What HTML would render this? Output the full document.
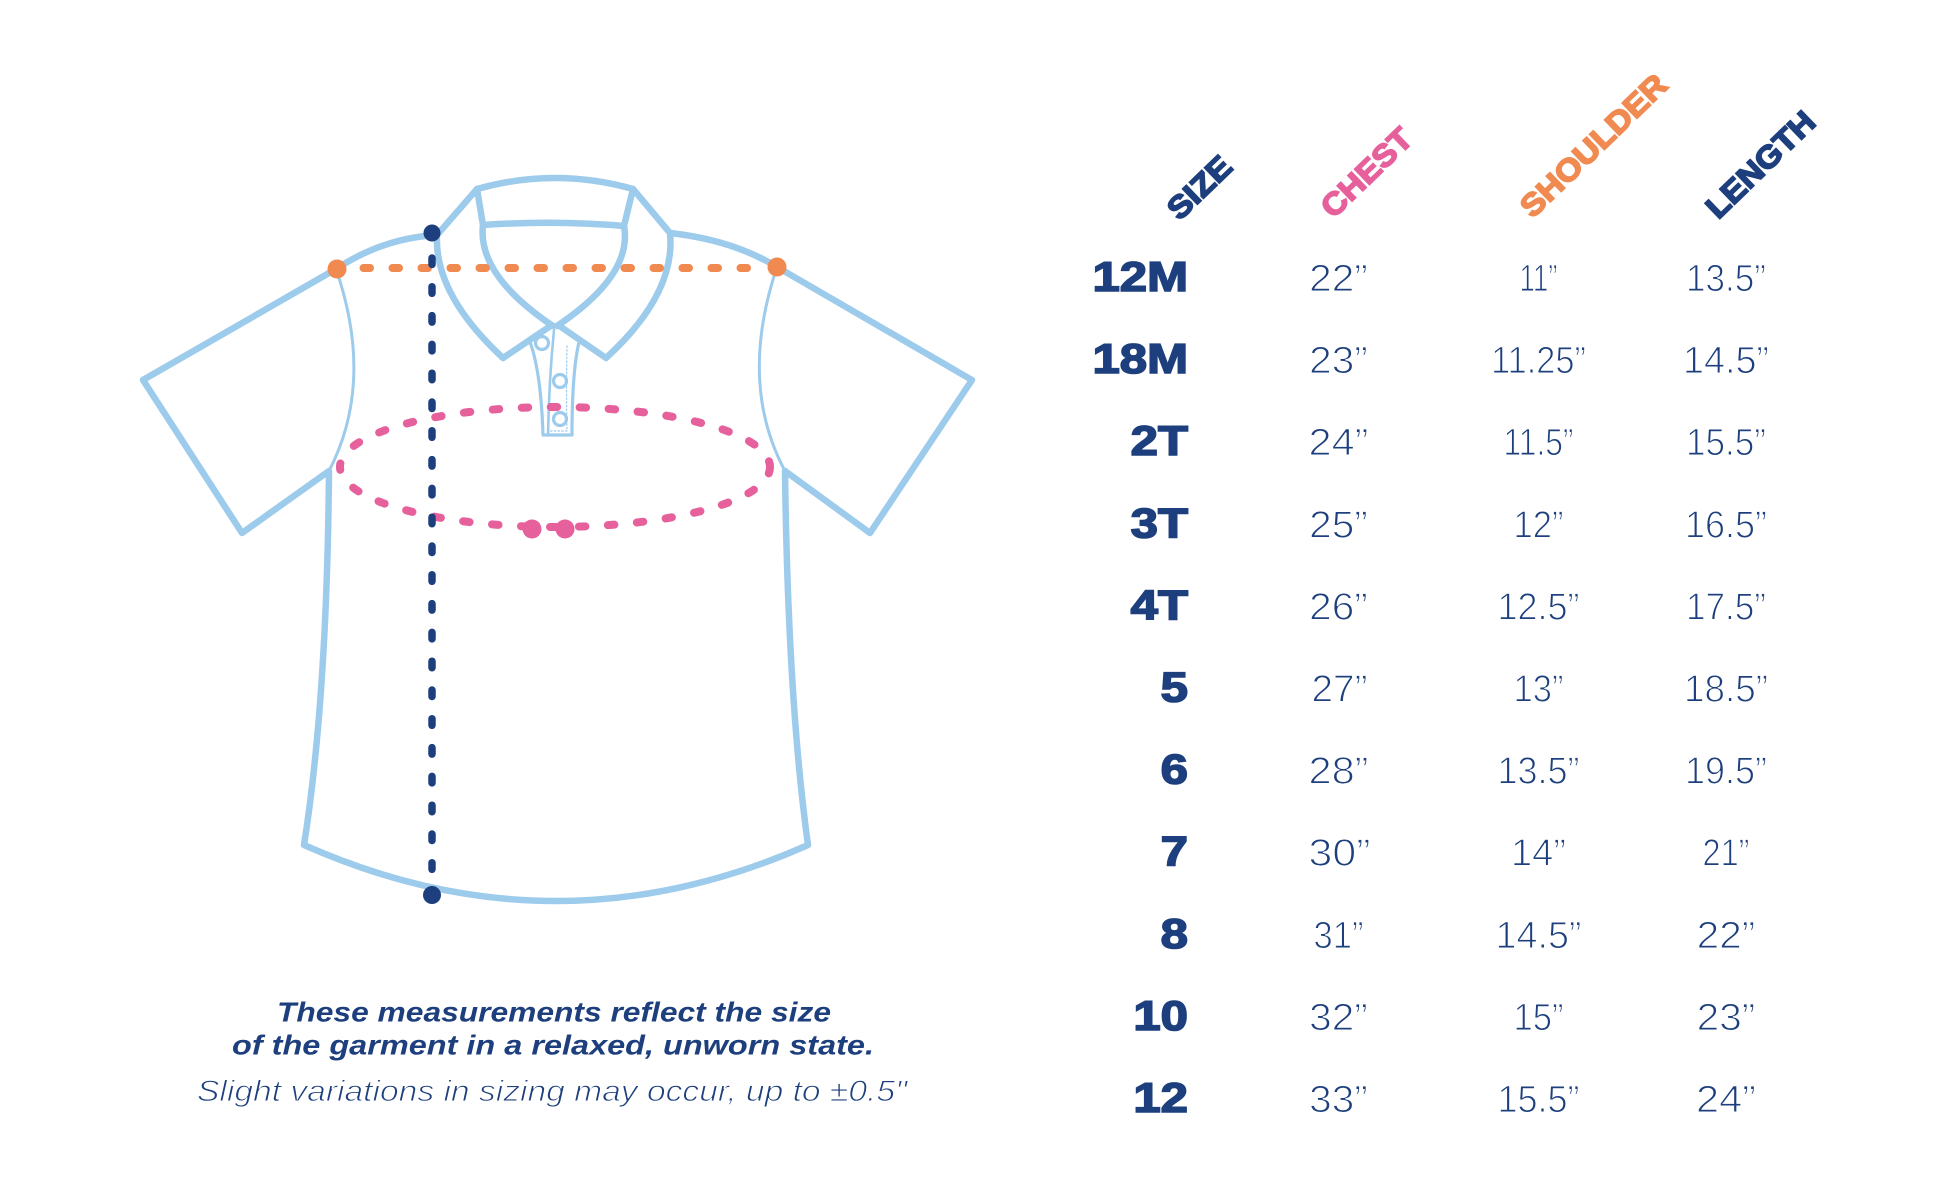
<!DOCTYPE html>
<html>
<head>
<meta charset="utf-8">
<style>
  html,body{margin:0;padding:0;background:#ffffff;}
  body{width:1946px;height:1194px;overflow:hidden;}
  svg{display:block;}
  .lbl{font-family:"Liberation Sans",sans-serif;font-weight:bold;font-size:42px;fill:#1d3f7d;stroke:#1d3f7d;stroke-width:1.6px;}
  .val{font-family:"Liberation Sans",sans-serif;font-weight:normal;font-size:38px;fill:#1d3f7d;stroke:#ffffff;stroke-width:1.1px;}
  .hdr{font-family:"Liberation Sans",sans-serif;font-weight:bold;font-size:31px;stroke-width:1.7px;}
</style>
</head>
<body>
<svg width="1946" height="1194" viewBox="0 0 1946 1194" xmlns="http://www.w3.org/2000/svg">
  <rect x="0" y="0" width="1946" height="1194" fill="#ffffff"/>

  <!-- ===== SHIRT ===== -->
  <g fill="none" stroke="#9dcbec" stroke-linejoin="round" stroke-linecap="round">
    <path stroke-width="6.5" d="M 437 235 Q 383 238 336 269 L 143 380 L 242 533 L 329 471 Q 327 700 304 845 Q 556 957 808 845 Q 788 700 785 471 L 870 533 L 972 380 L 777 267 Q 733 240 670 233"/>
    <path stroke-width="6.5" d="M 477 189 Q 555 167 633 189"/>
    <path stroke-width="6.5" d="M 483 225 Q 555 220 624 226"/>
    <path stroke-width="6.5" d="M 477 189 L 437 235 Q 434 294 503 358 L 549 327"/>
    <path stroke-width="6.5" d="M 477 189 L 483 225 Q 477 275 553 326"/>
    <path stroke-width="6.5" d="M 633 189 L 670 233 Q 676 294 606 358 L 561 327"/>
    <path stroke-width="6.5" d="M 633 189 L 624 226 Q 633 275 557 326"/>
    <path stroke-width="3" d="M 336 269 Q 375 382 329 471"/>
    <path stroke-width="3" d="M 777 267 Q 738 383 785 471"/>
    <path stroke-width="3.2" d="M 530 342 Q 541 372 543 435 L 572 435 Q 572 372 579 342"/>
    <path stroke-width="2.6" d="M 554 330 Q 549 380 548 435"/>
    <path stroke-width="1.2" stroke-dasharray="1.5 2.2" d="M 567 346 Q 566 390 567 431 L 549 431"/>
    <circle cx="542" cy="343" r="6.5" stroke-width="3.2" fill="#ffffff"/>
    <circle cx="560" cy="381" r="6.5" stroke-width="3.2" fill="#ffffff"/>
    <circle cx="560" cy="419" r="6.5" stroke-width="3.2" fill="#ffffff"/>
  </g>

  <!-- pink chest ellipse -->
  <ellipse cx="555" cy="467" rx="215" ry="60" fill="none" stroke="#e6609c" stroke-width="8" stroke-linecap="round" stroke-dasharray="6.5 22.5"/>
  <circle cx="532" cy="529" r="9.5" fill="#e6609c"/>
  <circle cx="565" cy="529" r="9.5" fill="#e6609c"/>

  <!-- orange shoulder line -->
  <path d="M 363.5 268 H 765" fill="none" stroke="#f18a51" stroke-width="8" stroke-linecap="round" stroke-dasharray="6.5 22.5"/>
  <circle cx="337" cy="269" r="9.5" fill="#f18a51"/>
  <circle cx="777" cy="267" r="9.5" fill="#f18a51"/>

  <!-- navy length line -->
  <path d="M 432 258 V 880" fill="none" stroke="#1d3f7d" stroke-width="7.5" stroke-linecap="round" stroke-dasharray="6.5 22.3"/>
  <circle cx="432" cy="233" r="8.5" fill="#1d3f7d"/>
  <circle cx="432" cy="895" r="9" fill="#1d3f7d"/>

  <!-- ===== NOTE TEXT ===== -->
  <text x="554" y="1021.5" text-anchor="middle" textLength="554" lengthAdjust="spacingAndGlyphs"
        font-family="Liberation Sans, sans-serif" font-weight="bold" font-style="italic" font-size="28" fill="#1d3f7d">These measurements reflect the size</text>
  <text x="553" y="1054.5" text-anchor="middle" textLength="642" lengthAdjust="spacingAndGlyphs"
        font-family="Liberation Sans, sans-serif" font-weight="bold" font-style="italic" font-size="28" fill="#1d3f7d">of the garment in a relaxed, unworn state.</text>
  <text x="552" y="1101" text-anchor="middle" textLength="710" lengthAdjust="spacingAndGlyphs"
        font-family="Liberation Sans, sans-serif" font-style="italic" font-size="30" fill="#1d3f7d" stroke="#ffffff" stroke-width="0.9">Slight variations in sizing may occur, up to ±0.5"</text>

  <!-- ===== HEADERS ===== -->
  <g transform="translate(1199,187) rotate(-44)">
    <text class="hdr" x="0" y="11.3" text-anchor="middle" textLength="76" lengthAdjust="spacingAndGlyphs" fill="#1d3f7d" stroke="#1d3f7d">SIZE</text>
  </g>
  <g transform="translate(1366,172) rotate(-44)">
    <text class="hdr" x="0" y="11.3" text-anchor="middle" textLength="113" lengthAdjust="spacingAndGlyphs" fill="#e6609c" stroke="#e6609c">CHEST</text>
  </g>
  <g transform="translate(1593,145) rotate(-44)">
    <text class="hdr" x="0" y="11.3" text-anchor="middle" textLength="190" lengthAdjust="spacingAndGlyphs" fill="#f18a51" stroke="#f18a51">SHOULDER</text>
  </g>
  <g transform="translate(1760,164) rotate(-44)">
    <text class="hdr" x="0" y="11.3" text-anchor="middle" textLength="138" lengthAdjust="spacingAndGlyphs" fill="#1d3f7d" stroke="#1d3f7d">LENGTH</text>
  </g>

  <!-- ===== SIZE LABELS ===== -->
  <g>
    <text class="lbl" transform="translate(1188,291) scale(1.17,1)" text-anchor="end">12M</text>
    <text class="lbl" transform="translate(1188,373.1) scale(1.17,1)" text-anchor="end">18M</text>
    <text class="lbl" transform="translate(1188,455.2) scale(1.17,1)" text-anchor="end">2T</text>
    <text class="lbl" transform="translate(1188,537.3) scale(1.17,1)" text-anchor="end">3T</text>
    <text class="lbl" transform="translate(1188,619.4) scale(1.17,1)" text-anchor="end">4T</text>
    <text class="lbl" transform="translate(1188,701.5) scale(1.17,1)" text-anchor="end">5</text>
    <text class="lbl" transform="translate(1188,783.6) scale(1.17,1)" text-anchor="end">6</text>
    <text class="lbl" transform="translate(1188,865.7) scale(1.17,1)" text-anchor="end">7</text>
    <text class="lbl" transform="translate(1188,947.8) scale(1.17,1)" text-anchor="end">8</text>
    <text class="lbl" transform="translate(1188,1029.9) scale(1.17,1)" text-anchor="end">10</text>
    <text class="lbl" transform="translate(1188,1112) scale(1.17,1)" text-anchor="end">12</text>
  </g>

  <!-- ===== CHEST ===== -->
  <g text-anchor="middle">
    <text class="val" x="1338.5" y="291" textLength="58.6" lengthAdjust="spacingAndGlyphs">22”</text>
    <text class="val" x="1338.5" y="373.1" textLength="58.6" lengthAdjust="spacingAndGlyphs">23”</text>
    <text class="val" x="1338.5" y="455.2" textLength="60" lengthAdjust="spacingAndGlyphs">24”</text>
    <text class="val" x="1338.5" y="537.3" textLength="58.6" lengthAdjust="spacingAndGlyphs">25”</text>
    <text class="val" x="1338.5" y="619.4" textLength="58.6" lengthAdjust="spacingAndGlyphs">26”</text>
    <text class="val" x="1339.5" y="701.5" textLength="56" lengthAdjust="spacingAndGlyphs">27”</text>
    <text class="val" x="1338.5" y="783.6" textLength="60" lengthAdjust="spacingAndGlyphs">28”</text>
    <text class="val" x="1339.5" y="865.7" textLength="62" lengthAdjust="spacingAndGlyphs">30”</text>
    <text class="val" x="1338.5" y="947.8" textLength="50" lengthAdjust="spacingAndGlyphs">31”</text>
    <text class="val" x="1338.5" y="1029.9" textLength="58.6" lengthAdjust="spacingAndGlyphs">32”</text>
    <text class="val" x="1338.5" y="1112" textLength="58.6" lengthAdjust="spacingAndGlyphs">33”</text>
  </g>

  <!-- ===== SHOULDER ===== -->
  <g text-anchor="middle">
    <text class="val" x="1538.5" y="291" textLength="38" lengthAdjust="spacingAndGlyphs">11”</text>
    <text class="val" x="1538.5" y="373.1" textLength="94.8" lengthAdjust="spacingAndGlyphs">11.25”</text>
    <text class="val" x="1538.5" y="455.2" textLength="70" lengthAdjust="spacingAndGlyphs">11.5”</text>
    <text class="val" x="1538.5" y="537.3" textLength="50" lengthAdjust="spacingAndGlyphs">12”</text>
    <text class="val" x="1538.5" y="619.4" textLength="82" lengthAdjust="spacingAndGlyphs">12.5”</text>
    <text class="val" x="1538.5" y="701.5" textLength="50" lengthAdjust="spacingAndGlyphs">13”</text>
    <text class="val" x="1538.5" y="783.6" textLength="82" lengthAdjust="spacingAndGlyphs">13.5”</text>
    <text class="val" x="1538.5" y="865.7" textLength="55" lengthAdjust="spacingAndGlyphs">14”</text>
    <text class="val" x="1538.5" y="947.8" textLength="86" lengthAdjust="spacingAndGlyphs">14.5”</text>
    <text class="val" x="1538.5" y="1029.9" textLength="50" lengthAdjust="spacingAndGlyphs">15”</text>
    <text class="val" x="1538.5" y="1112" textLength="82" lengthAdjust="spacingAndGlyphs">15.5”</text>
  </g>

  <!-- ===== LENGTH ===== -->
  <g text-anchor="middle">
    <text class="val" x="1726" y="291" textLength="80" lengthAdjust="spacingAndGlyphs">13.5”</text>
    <text class="val" x="1726" y="373.1" textLength="86" lengthAdjust="spacingAndGlyphs">14.5”</text>
    <text class="val" x="1726" y="455.2" textLength="80" lengthAdjust="spacingAndGlyphs">15.5”</text>
    <text class="val" x="1726" y="537.3" textLength="82" lengthAdjust="spacingAndGlyphs">16.5”</text>
    <text class="val" x="1726" y="619.4" textLength="80" lengthAdjust="spacingAndGlyphs">17.5”</text>
    <text class="val" x="1726" y="701.5" textLength="84" lengthAdjust="spacingAndGlyphs">18.5”</text>
    <text class="val" x="1726" y="783.6" textLength="82" lengthAdjust="spacingAndGlyphs">19.5”</text>
    <text class="val" x="1726" y="865.7" textLength="47" lengthAdjust="spacingAndGlyphs">21”</text>
    <text class="val" x="1726" y="947.8" textLength="58.6" lengthAdjust="spacingAndGlyphs">22”</text>
    <text class="val" x="1726" y="1029.9" textLength="58.6" lengthAdjust="spacingAndGlyphs">23”</text>
    <text class="val" x="1726" y="1112" textLength="60" lengthAdjust="spacingAndGlyphs">24”</text>
  </g>
</svg>
</body>
</html>
